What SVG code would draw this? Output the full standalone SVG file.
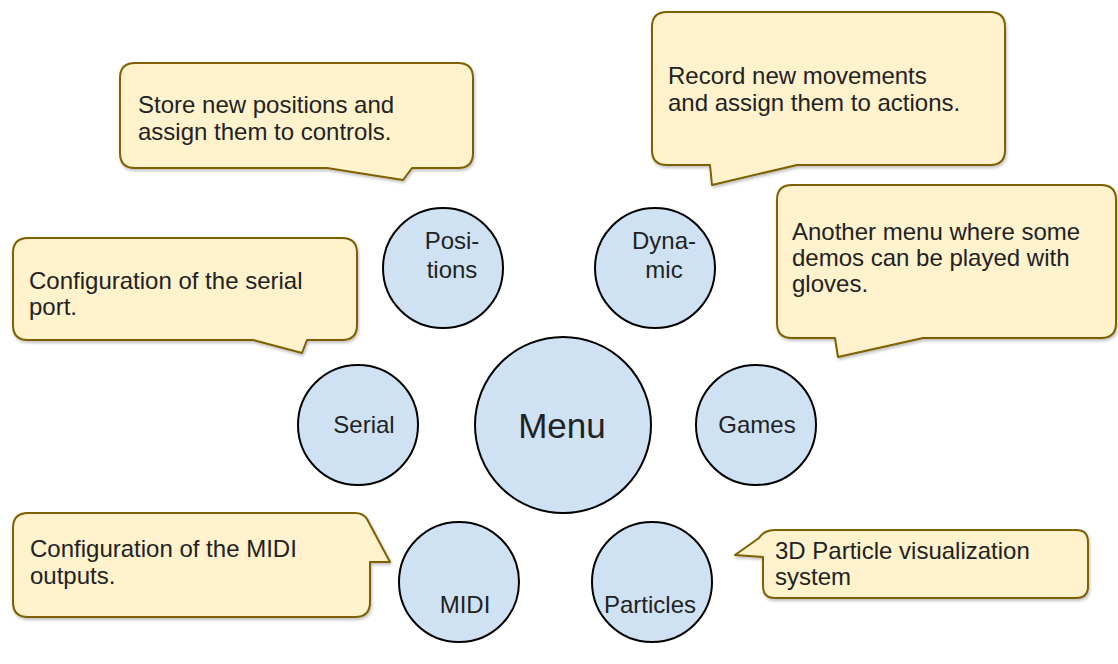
<svg xmlns="http://www.w3.org/2000/svg" width="1118" height="664" viewBox="0 0 1118 664">
<defs>
<style>
.callout{fill:#fff2cc;stroke:#7f6000;stroke-width:2;stroke-linejoin:round;filter:url(#sh)}
.node{fill:#cfe2f3;stroke:#000;stroke-width:2}
.t{font-family:"Liberation Sans",Arial,sans-serif;font-size:24px;fill:#222}
.c{text-anchor:middle}
</style>
<filter id="sh" x="-5%" y="-5%" width="110%" height="120%">
<feDropShadow dx="1" dy="2" stdDeviation="1.5" flood-color="#000" flood-opacity="0.25"/>
</filter>
</defs>
<rect width="1118" height="664" fill="#fff"/>
<g id="connectors"></g>
<g id="note-positions">
<path class="callout" d="M135,63 H458 Q473,63 473,78 V153 Q473,168 458,168 H412 L403,180 L327,168 H135 Q120,168 120,153 V78 Q120,63 135,63 Z"/>
<text class="t" x="138" y="113">Store new positions and</text>
<text class="t" x="138" y="140">assign them to controls.</text>
</g>
<g id="note-dynamic">
<path class="callout" d="M667,12 H990 Q1005,12 1005,27 V150 Q1005,165 990,165 H797 L712,185 L710,165 H667 Q652,165 652,150 V27 Q652,12 667,12 Z"/>
<text class="t" x="668" y="84">Record new movements</text>
<text class="t" x="668" y="111">and assign them to actions.</text>
</g>
<g id="note-serial">
<path class="callout" d="M28,238 H342 Q357,238 357,253 V325 Q357,340 342,340 H307 L302,353 L253,340 H28 Q13,340 13,325 V253 Q13,238 28,238 Z"/>
<text class="t" x="29" y="289">Configuration of the serial</text>
<text class="t" x="29" y="315">port.</text>
</g>
<g id="note-games">
<path class="callout" d="M792,185 H1101 Q1116,185 1116,200 V323 Q1116,338 1101,338 H923 L838,357 L835,338 H792 Q777,338 777,323 V200 Q777,185 792,185 Z"/>
<text class="t" x="792" y="240">Another menu where some</text>
<text class="t" x="792" y="266">demos can be played with</text>
<text class="t" x="792" y="292">gloves.</text>
</g>
<g id="note-midi">
<path class="callout" d="M28,513 H355 Q363,513 367,519 L390,562 L370,562 V602 Q370,617 355,617 H28 Q13,617 13,602 V528 Q13,513 28,513 Z"/>
<text class="t" x="30" y="557">Configuration of the MIDI</text>
<text class="t" x="30" y="584">outputs.</text>
</g>
<g id="note-particles">
<path class="callout" d="M775,530 H1076 Q1088,530 1088,542 V586 Q1088,598 1076,598 H775 Q763,598 763,586 V557 L735,555 L759,538 Q764,530 775,530 Z"/>
<text class="t" x="775" y="559">3D Particle visualization</text>
<text class="t" x="775" y="585">system</text>
</g>
<g id="node-menu">
<circle class="node" cx="563" cy="425" r="88"/>
<text class="t c" x="562" y="438" style="font-size:35px">Menu</text>
</g>
<g id="node-positions">
<circle class="node" cx="443" cy="268" r="60"/>
<text class="t c" x="452" y="249">Posi-</text>
<text class="t c" x="452" y="278">tions</text>
</g>
<g id="node-dynamic">
<circle class="node" cx="655" cy="268" r="60"/>
<text class="t c" x="664" y="249">Dyna-</text>
<text class="t c" x="664" y="278">mic</text>
</g>
<g id="node-serial">
<circle class="node" cx="358" cy="425" r="60"/>
<text class="t c" x="364" y="433">Serial</text>
</g>
<g id="node-games">
<circle class="node" cx="756" cy="425" r="60"/>
<text class="t c" x="757" y="433">Games</text>
</g>
<g id="node-midi">
<circle class="node" cx="459" cy="582" r="60"/>
<text class="t c" x="465" y="613">MIDI</text>
</g>
<g id="node-particles">
<circle class="node" cx="652" cy="582" r="60"/>
<text class="t c" x="650" y="613">Particles</text>
</g>
</svg>
